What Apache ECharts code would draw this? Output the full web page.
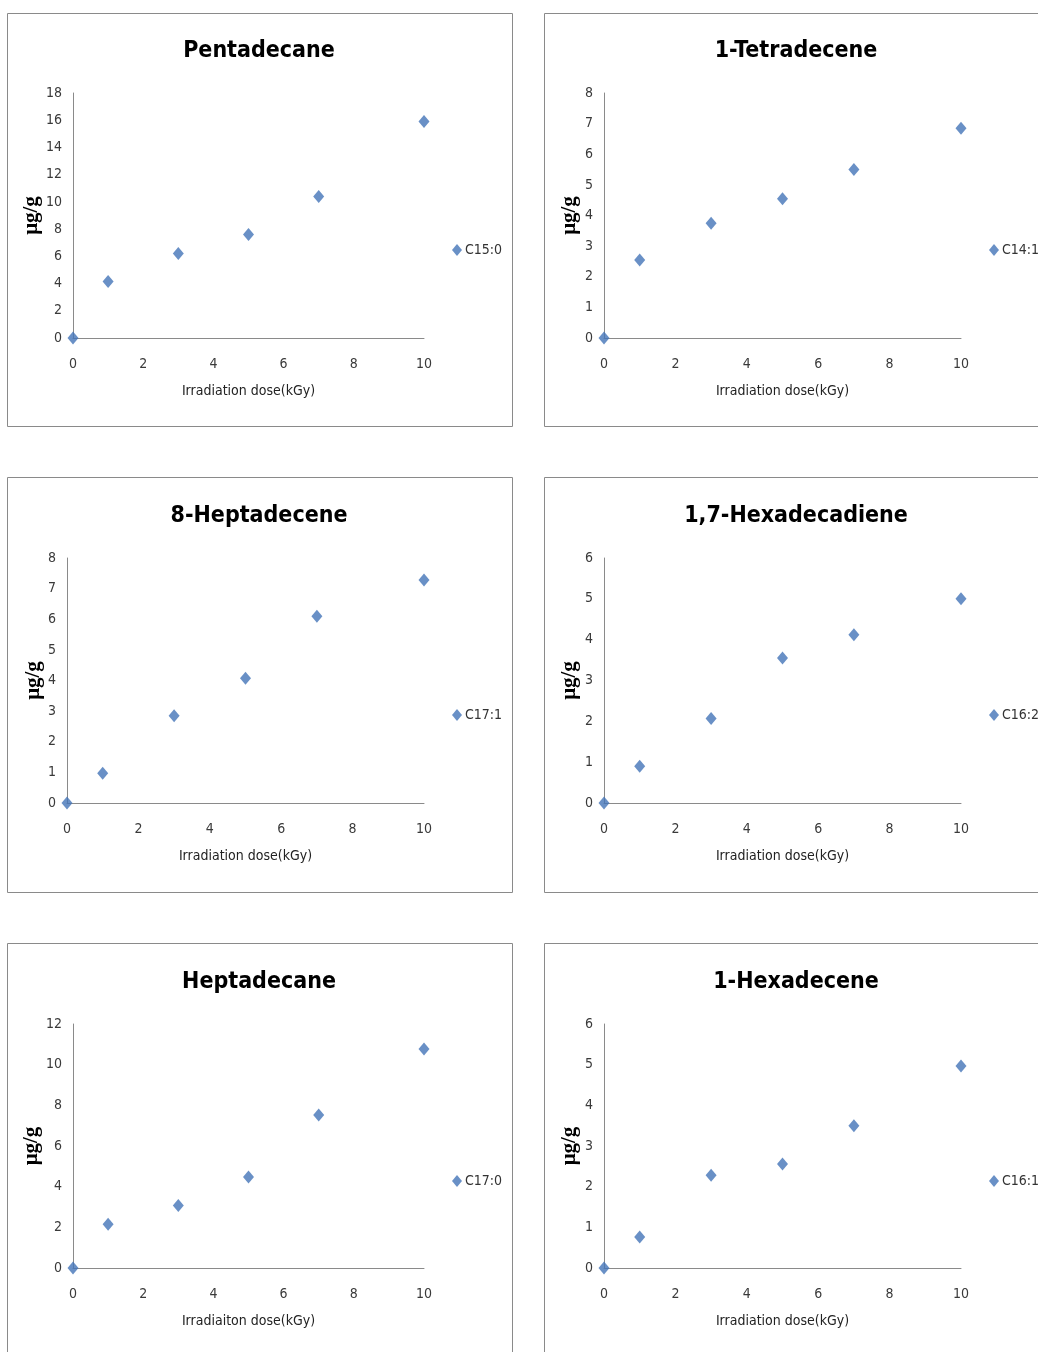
<!DOCTYPE html>
<html>
<head>
<meta charset="utf-8">
<title>Hydrocarbons vs. irradiation dose</title>
<script src="https://cdn.jsdelivr.net/npm/echarts@6/dist/echarts.min.js"></script>
<style>
  html, body { margin: 0; padding: 0; background: #ffffff; }
  #chart { width: 1038px; height: 1352px; }
</style>
</head>
<body>
<div id="chart"></div>
<script>
// Irradiation doses (kGy) shared by every panel
const doses = [0, 1, 3, 5, 7, 10];

// Hydrocarbon concentrations (µg/g) per dose
const pentadecane      = [0, 4.15, 6.2, 7.6, 10.4, 15.9];   // C15:0
const tetradecene      = [0, 2.55, 3.75, 4.55, 5.5, 6.85];  // C14:1
const heptadecene      = [0, 0.97, 2.85, 4.07, 6.1, 7.28];  // C17:1
const hexadecadiene    = [0, 0.9, 2.07, 3.55, 4.12, 5.0];   // C16:2
const heptadecane      = [0, 2.15, 3.07, 4.48, 7.52, 10.77];// C17:0
const hexadecene       = [0, 0.76, 2.28, 2.56, 3.5, 4.97];  // C16:1

const panelTitles  = ['Pentadecane', '1-Tetradecene', '8-Heptadecene', '1,7-Hexadecadiene', 'Heptadecane', '1-Hexadecene'];
const seriesNames  = ['C15:0', 'C14:1', 'C17:1', 'C16:2', 'C17:0', 'C16:1'];
const seriesValues = [pentadecane, tetradecene, heptadecene, hexadecadiene, heptadecane, hexadecene];
const yMax         = [18, 8, 8, 6, 12, 6];
const yStep        = [2, 1, 1, 1, 2, 1];
const xTitles      = ['Irradiation dose(kGy)', 'Irradiation dose(kGy)', 'Irradiation dose(kGy)',
                      'Irradiation dose(kGy)', 'Irradiaiton dose(kGy)', 'Irradiation dose(kGy)'];

// Panel geometry (frame box, plot area, title centre, legend anchor)
const layout = [
  { box: [7, 13, 505, 413],   grid: [73, 93, 351, 245],   title: [259, 51],  legend: [452, 243], yGap: 29 },
  { box: [544, 13, 520, 413], grid: [604, 93, 357, 245],  title: [796, 51],  legend: [989, 243], yGap: 24 },
  { box: [7, 477, 505, 415],  grid: [67, 558, 357, 245],  title: [259, 516], legend: [452, 708], yGap: 23 },
  { box: [544, 477, 520, 415],grid: [604, 558, 357, 245], title: [796, 516], legend: [989, 708], yGap: 24 },
  { box: [7, 943, 505, 430],  grid: [73, 1024, 351, 244], title: [259, 982], legend: [452, 1174], yGap: 29 },
  { box: [544, 943, 520, 430],grid: [604, 1024, 357, 244],title: [796, 982], legend: [989, 1174], yGap: 24 }
];

const BLUE = '#4474B8';
const NARROW = "'Liberation Sans Narrow', 'DejaVu Sans Condensed', 'Roboto Condensed', sans-serif";

const grids = [], xAxes = [], yAxes = [], series = [], titles = [], legends = [], frames = [];

layout.forEach((p, i) => {
  frames.push({
    type: 'rect', silent: true, z: -1,
    shape: { x: p.box[0] + 0.5, y: p.box[1] + 0.5, width: p.box[2], height: p.box[3] },
    style: { fill: '#ffffff', stroke: '#8a8a8a', lineWidth: 1 }
  });

  grids.push({ left: p.grid[0], top: p.grid[1], width: p.grid[2], height: p.grid[3] });

  titles.push({
    text: panelTitles[i],
    left: p.title[0], top: p.title[1], padding: 0,
    textAlign: 'center', textVerticalAlign: 'middle',
    textStyle: { fontFamily: NARROW, fontWeight: 'bold', fontSize: 23, color: '#000000' }
  });

  legends.push({
    data: [seriesNames[i]],
    left: p.legend[0], top: p.legend[1], padding: 0,
    icon: 'diamond', itemWidth: 10, itemHeight: 12, itemGap: 4,
    textStyle: { fontFamily: NARROW, fontSize: 14, color: '#333333', padding: [0, 0, 0, -2] }
  });

  xAxes.push({
    type: 'value', gridIndex: i, min: 0, max: 10, interval: 2,
    name: xTitles[i], nameLocation: 'middle', nameGap: 46,
    nameTextStyle: { fontFamily: NARROW, fontSize: 14, color: '#222222' },
    axisLine: { onZero: false, lineStyle: { color: '#8a8a8a', width: 1 } },
    axisTick: { show: false },
    splitLine: { show: false },
    axisLabel: { margin: 19, fontFamily: NARROW, fontSize: 14, color: '#3a3a3a' }
  });

  yAxes.push({
    type: 'value', gridIndex: i, min: 0, max: yMax[i], interval: yStep[i],
    name: 'μg/g', nameLocation: 'middle', nameRotate: 90, nameGap: p.yGap,
    nameTextStyle: { fontFamily: "'Liberation Serif', 'DejaVu Serif', serif", fontWeight: 'bold', fontSize: 21, color: '#000000' },
    axisLine: { show: true, lineStyle: { color: '#8a8a8a', width: 1 } },
    axisTick: { show: false },
    splitLine: { show: false },
    axisLabel: { margin: 11, fontFamily: NARROW, fontSize: 14, color: '#3a3a3a' }
  });

  series.push({
    name: seriesNames[i], type: 'scatter', xAxisIndex: i, yAxisIndex: i,
    symbol: 'diamond', symbolSize: [11, 13], clip: false,
    itemStyle: { color: BLUE },
    data: doses.map((d, k) => [d, seriesValues[i][k]])
  });
});

const chart = echarts.init(document.getElementById('chart'), null, { renderer: 'canvas' });
chart.setOption({
  backgroundColor: '#ffffff',
  animation: false,
  title: titles,
  legend: legends,
  grid: grids,
  xAxis: xAxes,
  yAxis: yAxes,
  series: series,
  graphic: frames
});
</script>
</body>
</html>
